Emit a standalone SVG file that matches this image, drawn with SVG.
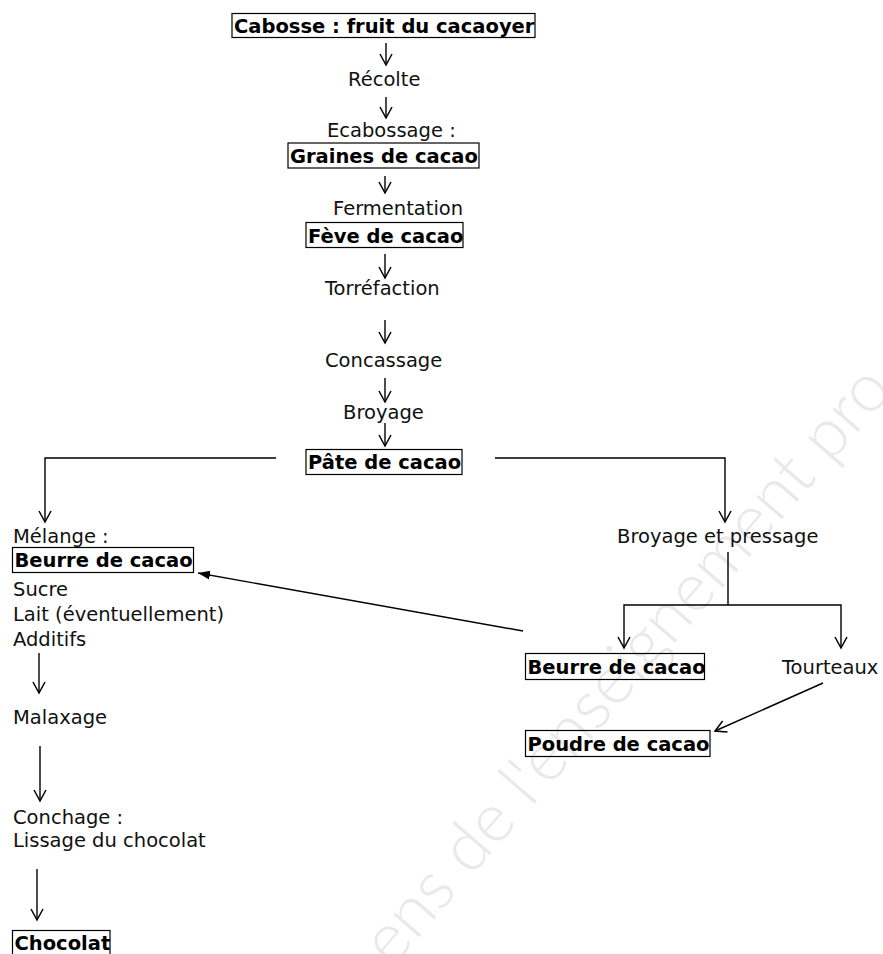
<svg xmlns="http://www.w3.org/2000/svg" width="883" height="954" viewBox="0 0 883 954">
<style>
text{font-family:"DejaVu Sans","Verdana",sans-serif;font-size:19.5px;fill:#111}
.b{font-weight:bold;fill:#000}
.box{fill:none;stroke:#000;stroke-width:1.2}
.c path{fill:none;stroke:#000;stroke-width:1.4}
.wm{font-family:Lato,"Open Sans",sans-serif;font-weight:300;font-size:68px;fill:#e9e9e9}
</style>
<defs>
<marker id="open" markerUnits="userSpaceOnUse" markerWidth="14" markerHeight="14" viewBox="0 0 14 14" refX="12" refY="7" orient="auto">
<path d="M1,1 L12,7 L1,13" fill="none" stroke="#000" stroke-width="1.5"/>
</marker>
<marker id="fill" markerUnits="userSpaceOnUse" markerWidth="13" markerHeight="10" viewBox="0 0 13 10" refX="12" refY="5" orient="auto">
<path d="M0,0.5 L12,5 L0,9.5 z" fill="#000"/>
</marker>
</defs>
<rect width="883" height="954" fill="#fff"/>
<text class="wm" transform="translate(392,968) rotate(-49)">ens de l'enseignement pro</text>
<g id="connectors" class="c">
<path d="M386,43 V65" marker-end="url(#open)"/>
<path d="M386,97 V118" marker-end="url(#open)"/>
<path d="M385,176 V193" marker-end="url(#open)"/>
<path d="M385,254 V278" marker-end="url(#open)"/>
<path d="M385,320 V343" marker-end="url(#open)"/>
<path d="M385,378 V402" marker-end="url(#open)"/>
<path d="M385,423 V446" marker-end="url(#open)"/>
<path d="M276,458 H45 V522" marker-end="url(#open)"/>
<path d="M495,458 H725 V522" marker-end="url(#open)"/>
<path d="M728,552 V605"/>
<path d="M728,605 H624 V648" marker-end="url(#open)"/>
<path d="M728,605 H841 V648" marker-end="url(#open)"/>
<path d="M523,631 L198,573" marker-end="url(#fill)"/>
<path d="M823,683 L715,731" marker-end="url(#open)"/>
<path d="M39,653 V693" marker-end="url(#open)"/>
<path d="M40,746 V801" marker-end="url(#open)"/>
<path d="M37,869 V920" marker-end="url(#open)"/>
</g>
<g id="n_cabosse"><rect class="box" x="232" y="13.5" width="303" height="24"/><text class="b" x="234" y="33">Cabosse : fruit du cacaoyer</text></g>
<g id="n_recolte"><text x="348" y="86">Récolte</text></g>
<g id="n_ecabossage"><text x="327" y="137">Ecabossage :</text></g>
<g id="n_graines"><rect class="box" x="288" y="143" width="191" height="25"/><text class="b" x="290" y="163">Graines de cacao</text></g>
<g id="n_fermentation"><text x="333" y="215">Fermentation</text></g>
<g id="n_feve"><rect class="box" x="306" y="222.5" width="157" height="25"/><text class="b" x="308" y="243">Fève de cacao</text></g>
<g id="n_torrefaction"><text x="325" y="295">Torréfaction</text></g>
<g id="n_concassage"><text x="325" y="367">Concassage</text></g>
<g id="n_broyage"><text x="343" y="419">Broyage</text></g>
<g id="n_pate"><rect class="box" x="306" y="449.5" width="156" height="25"/><text class="b" x="308" y="469">Pâte de cacao</text></g>
<g id="n_melange">
<text x="13" y="543">Mélange :</text>
<rect class="box" x="12.5" y="547.5" width="181" height="25"/><text class="b" x="14.5" y="567">Beurre de cacao</text>
<text x="13" y="596">Sucre</text>
<text x="13" y="621">Lait (éventuellement)</text>
<text x="13" y="646">Additifs</text>
</g>
<g id="n_malaxage"><text x="13" y="724">Malaxage</text></g>
<g id="n_conchage"><text x="13" y="824">Conchage :</text><text x="13" y="847">Lissage du chocolat</text></g>
<g id="n_chocolat"><rect class="box" x="12.5" y="930.5" width="97.5" height="30"/><text class="b" x="14.5" y="950">Chocolat</text></g>
<g id="n_broyage_pressage"><text x="617" y="543">Broyage et pressage</text></g>
<g id="n_beurre_r"><rect class="box" x="525.5" y="653.5" width="179" height="26"/><text class="b" x="527.5" y="674">Beurre de cacao</text></g>
<g id="n_tourteaux"><text x="782" y="674">Tourteaux</text></g>
<g id="n_poudre"><rect class="box" x="525.5" y="730.5" width="184.5" height="26"/><text class="b" x="527.5" y="751">Poudre de cacao</text></g>
</svg>
